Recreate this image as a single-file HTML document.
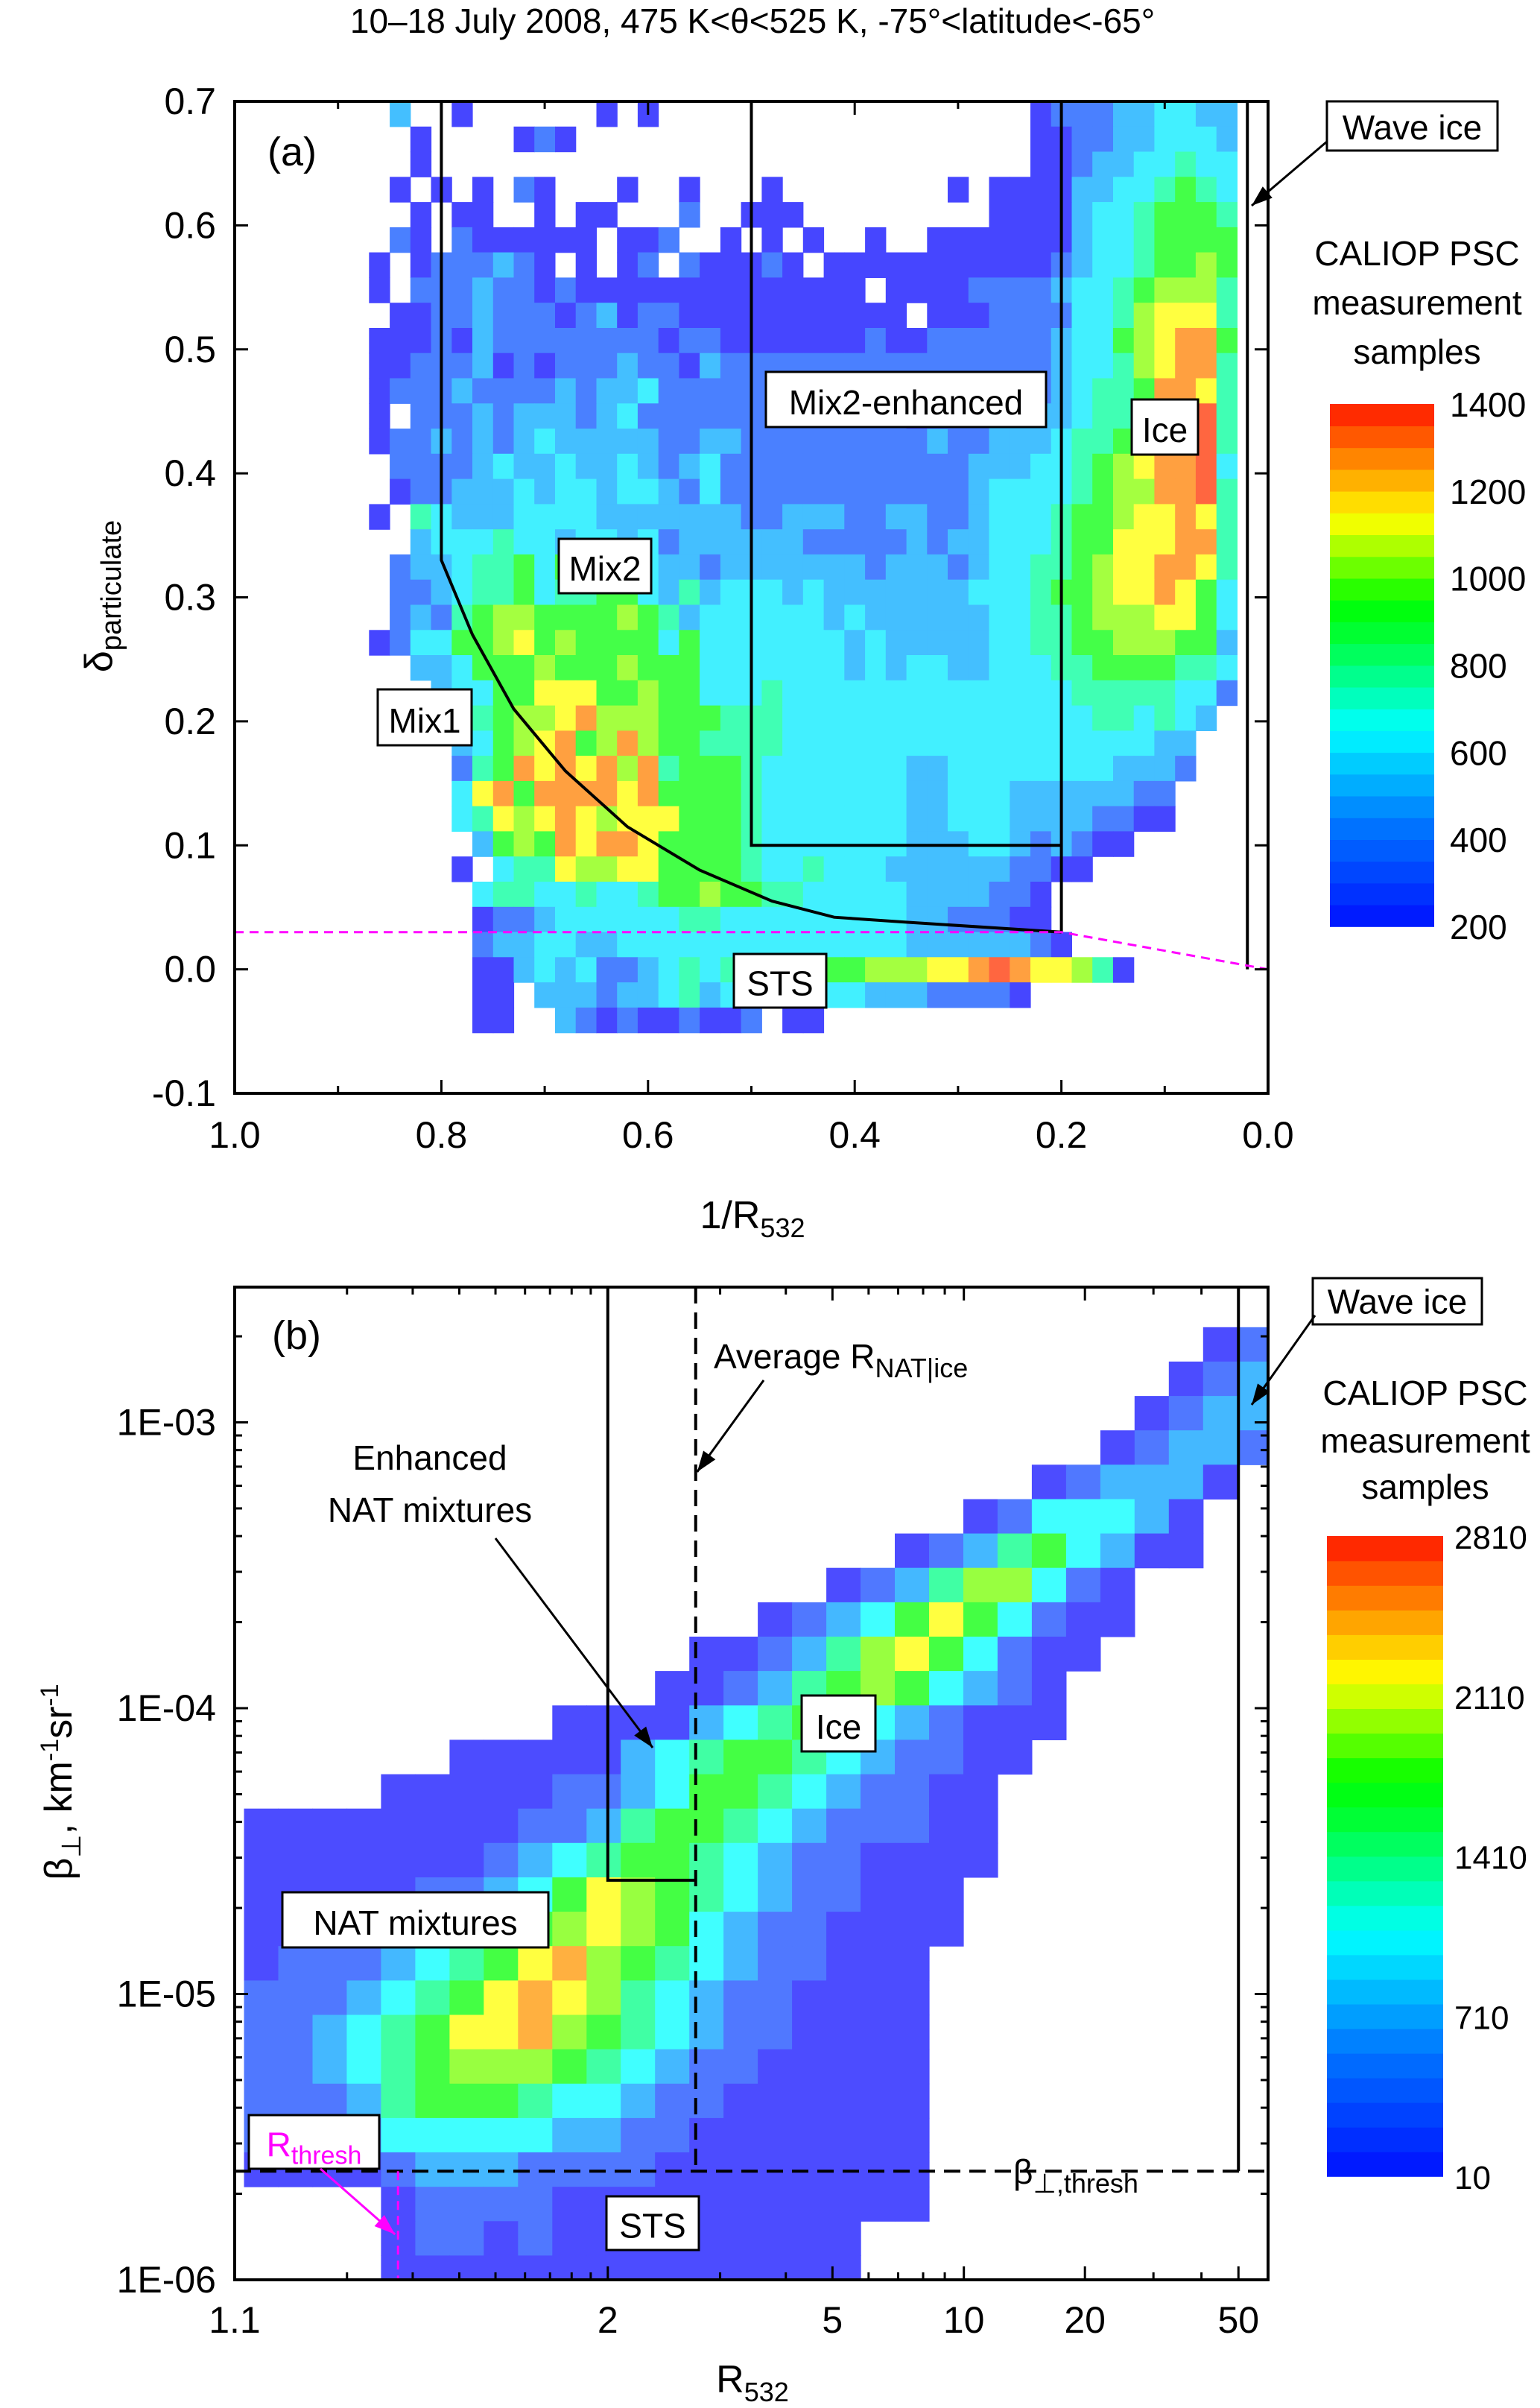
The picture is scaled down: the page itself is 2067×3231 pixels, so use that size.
<!DOCTYPE html>
<html><head><meta charset="utf-8"><style>
html,body{margin:0;padding:0;background:#fff;}
svg{display:block;font-family:"Liberation Sans",sans-serif;}
</style></head><body>
<svg id="fig" xmlns="http://www.w3.org/2000/svg" width="2067" height="3231" viewBox="0 0 2067 3231">
<rect x="0" y="0" width="2067" height="3231" fill="#fff"/>
<text x="1010" y="44" font-size="46" text-anchor="middle">10–18 July 2008, 475 K&lt;θ&lt;525 K, -75°&lt;latitude&lt;-65°</text>
<g id="cellsA"></g>
<g id="cellsB"></g>
<g id="overlay"></g>
</svg>
<script>
// ---------- Panel (a) data: codes per bin (0 empty .. a max) ----------
const aBinX0 = 0.87, aBinDX = 0.02, aBinY0 = 0.70, aBinDY = 0.0203;
const rowsA = [
"0300100000"+"0101000000"+"0000000000"+"001222334433",
"0010000121"+"0000000000"+"0000000000"+"001122334443",
"0010000000"+"0000000000"+"0000000000"+"001123344544",
"0101010210"+"0010010001"+"0000000010"+"111133445654",
"0010110010"+"1100020011"+"1000000000"+"111134456665",
"0210211111"+"1011200101"+"0100100111"+"111134456666",
"1012223210"+"1012021112"+"1011111111"+"111234456676",
"1022232212"+"1111111111"+"1111011112"+"222344567775",
"0112232221"+"2312211111"+"1111110111"+"222244578885",
"1112132222"+"2222122111"+"1111211222"+"222344678996",
"1122231212"+"2232213222"+"2222222222"+"222344578995",
"1222322223"+"2334222222"+"2222222222"+"222345569985",
"1022232333"+"2342222222"+"2222221122"+"3333455799a5",
"1223232343"+"3333223322"+"2222222322"+"3334556799a5",
"0222234334"+"3343234222"+"2222222223"+"3344567899a4",
"0122333434"+"4344324222"+"2222222223"+"4444567799a5",
"1054333444"+"4333333322"+"3332233223"+"444566788985",
"0034445443"+"4434233333"+"3222223233"+"444566888995",
"0233455646"+"4634332333"+"3333233323"+"445567889985",
"0223455645"+"5664353444"+"3433333334"+"445667889864",
"0232567766"+"6676534444"+"4434333333"+"445567778864",
"1244667867"+"6666464444"+"4443433333"+"445566777663",
"0033466676"+"6676664444"+"4443434433"+"444556666554",
"0003446688"+"8667664445"+"4444444444"+"444455555442",
"0000456778"+"9777666555"+"4444444444"+"444445545430",
"0000346789"+"6797665555"+"4444444444"+"444444443300",
"0000256989"+"8979566654"+"4444443344"+"444444333200",
"0000489699"+"9989666654"+"4444443344"+"433333322000",
"0000458789"+"8788866654"+"4444443344"+"433332211000",
"0000036769"+"8998666654"+"4444443334"+"432321100000",
"0000104558"+"7788666654"+"4544433333"+"322110000000",
"0000045544"+"5445667665"+"5444443333"+"221000000000",
"0000012234"+"4444455444"+"4444443322"+"211000000000",
"0000023344"+"3344444444"+"4444443333"+"332100000000",
"0000011343"+"4223454555"+"5566777889"+"a98875100000",
"0000011033"+"3233453444"+"4444333222"+"210000000000",
"0000011003"+"2121121120"+"1100000000"+"000000000000"
];
const aXTicks = [1.0,0.8,0.6,0.4,0.2,0.0];
const aXTickLabels = ["1.0","0.8","0.6","0.4","0.2","0.0"];
const aYTicks = [0.7,0.6,0.5,0.4,0.3,0.2,0.1,0.0,-0.1];
const aYTickLabels = ["0.7","0.6","0.5","0.4","0.3","0.2","0.1","0.0","-0.1"];
const aCbLabels = ["1400","1200","1000","800","600","400","200"];
const mix1Curve = [[0.8,0.7],[0.8,0.33],[0.77,0.27],[0.73,0.21],[0.68,0.16],[0.62,0.115],[0.55,0.08],[0.48,0.055],[0.42,0.042],[0.35,0.038],[0.2,0.03]];

// ---------- Panel (b) data ----------
const bBinX0 = -0.975, bBinDX = 0.0918, bBinY0 = -2.667, bBinDY = 0.1203;
const rowsB = [
"0000000000"+"0000000000"+"0000000012",
"0000000000"+"0000000000"+"0000000123",
"0000000000"+"0000000000"+"0000001233",
"0000000000"+"0000000000"+"0000012332",
"0000000000"+"0000000000"+"0001233310",
"0000000000"+"0000000000"+"0124443100",
"0000000000"+"0000000001"+"2356431100",
"0000000000"+"0000000123"+"5774210000",
"0000000000"+"0000012346"+"8642110000",
"0000000000"+"0001123578"+"6421100000",
"0000000000"+"0011235676"+"4321000000",
"0000000001"+"1113456543"+"2111000000",
"0000001111"+"1345665432"+"2110000000",
"0000111112"+"2346654322"+"1100000000",
"1111111122"+"3566543222"+"1100000000",
"1111111234"+"5665432211"+"1100000000",
"1111122346"+"8765432211"+"1000000000",
"1111223467"+"8764322111"+"1000000000",
"1222345689"+"7654322111"+"0000000000",
"2223456898"+"7543221111"+"0000000000",
"2234568897"+"6543221111"+"0000000000",
"2234567776"+"5432211111"+"0000000000",
"2223566654"+"4322111111"+"0000000000",
"2222444443"+"3221111111"+"0000000000",
"1111233322"+"2211111111"+"0000000000",
"0000122221"+"1111111111"+"0000000000",
"0000122121"+"1111111100"+"0000000000",
"0000111111"+"1111111100"+"0000000000"
];
const bXTicks = [1.1,2,5,10,20,50];
const bXTickLabels = ["1.1","2","5","10","20","50"];
const bXMinor = [1.2,1.3,1.4,1.5,1.6,1.7,1.8,1.9,3,4,6,7,8,9,30,40];
const bYTicks = [-3,-4,-5,-6];
const bYTickLabels = ["1E-03","1E-04","1E-05","1E-06"];
const bCbLabels = ["2810","2110","1410","710","10"];

// ---------- geometry ----------
const NS="http://www.w3.org/2000/svg";
const A={l:315,r:1702,t:136,b:1467};
const B={l:315,r:1702,t:1727,b:3059};
function xa(v){return A.l+(1-v)*(A.r-A.l);}
function ya(v){return A.t+(0.7-v)/0.8*(A.b-A.t);}
function xbl(lg){return B.l+(lg+1)*500.8;}
function xb(R){return xbl(Math.log10(R-1));}
function ybl(lg){return B.b-(lg+6)*383.5;}
function yb(beta){return ybl(Math.log10(beta));}
const palA={"1":"#4646ff","2":"#4a80ff","3":"#44bfff","4":"#42f0ff","5":"#40ffb4","6":"#44ff48","7":"#a4ff40","8":"#ffff40","9":"#ffa040","a":"#ff6640"};
const palB={"1":"#4c4cff","2":"#5078ff","3":"#44b8ff","4":"#40ffff","5":"#40ffa4","6":"#44ff44","7":"#98ff40","8":"#ffff40","9":"#ffb040","a":"#ff6040"};
function mk(tag,attrs,parent){const e=document.createElementNS(NS,tag);for(const k in attrs)e.setAttribute(k,attrs[k]);(parent||document.getElementById('fig')).appendChild(e);return e;}

const gA=document.getElementById('cellsA');
rowsA.forEach((row,k)=>{for(let j=0;j<row.length;j++){const c=row[j];if(c==='0')continue;
 const x1=xa(aBinX0-aBinDX*j),x2=xa(aBinX0-aBinDX*(j+1));const y1=ya(aBinY0-aBinDY*k),y2=Math.min(A.b,ya(aBinY0-aBinDY*(k+1)));
 const r=mk('rect',{x:x1.toFixed(1),y:y1.toFixed(1),width:(x2-x1+0.6).toFixed(1),height:(y2-y1+0.6).toFixed(1),fill:palA[c]},gA);
 
 }});
const gB=document.getElementById('cellsB');
rowsB.forEach((row,k)=>{for(let j=0;j<row.length;j++){const c=row[j];if(c==='0')continue;
 const x1=Math.max(B.l,xbl(bBinX0+bBinDX*j)),x2=Math.min(B.r,xbl(bBinX0+bBinDX*(j+1)));const y1=Math.max(B.t,ybl(bBinY0-bBinDY*k)),y2=Math.min(B.b,ybl(bBinY0-bBinDY*(k+1)));
 const r=mk('rect',{x:x1.toFixed(1),y:y1.toFixed(1),width:(x2-x1+0.6).toFixed(1),height:(y2-y1+0.6).toFixed(1),fill:palB[c]},gB);
 
 }});

const g=document.getElementById('overlay');
function line(x1,y1,x2,y2,st,name){const l=mk('line',{x1,y1,x2,y2,stroke:st.c||'#000','stroke-width':st.w||4,'stroke-dasharray':st.d||'none'},g);return l;}
function text(x,y,s,size,anchor,name,fill){const t=mk('text',{x,y,'font-size':size,'text-anchor':anchor||'middle',fill:fill||'#000'},g);t.innerHTML=s;return t;}
function box(x,y,w,h,s,name,size,fill){const r=mk('rect',{x,y,width:w,height:h,fill:'#fff',stroke:'#000','stroke-width':3},g);text(x+w/2,y+h*0.77,s,size||46,'middle',name,fill);}
function arrow(x1,y1,x2,y2,col,name){line(x1,y1,x2,y2,{w:3,c:col},name);const a=Math.atan2(y2-y1,x2-x1),L=28,W=10;
 const p=mk('polygon',{points:`${x2},${y2} ${x2-L*Math.cos(a)+W*Math.sin(a)},${y2-L*Math.sin(a)-W*Math.cos(a)} ${x2-L*Math.cos(a)-W*Math.sin(a)},${y2-L*Math.sin(a)+W*Math.cos(a)}`,fill:col},g);}

let pts=mix1Curve.map(p=>xa(p[0]).toFixed(1)+','+ya(p[1]).toFixed(1)).join(' ');
let pl=mk('polyline',{points:pts,fill:'none',stroke:'#000','stroke-width':4},g);
pl=mk('polyline',{points:`${xa(0.5)},${A.t} ${xa(0.5)},${ya(0.1)} ${xa(0.2)},${ya(0.1)}`,fill:'none',stroke:'#000','stroke-width':4},g);
line(xa(0.2),A.t,xa(0.2),ya(0.03),{},'ice-boundary-a');
line(xa(0.02),A.t,xa(0.02),ya(0.0),{},'wave-ice-boundary-a');
pl=mk('polyline',{points:`${A.l},${ya(0.03)} ${xa(0.2)},${ya(0.03)} ${A.r},${ya(0.0)}`,fill:'none',stroke:'#ff00ff','stroke-width':3,'stroke-dasharray':'12,8'},g);
let fr=mk('rect',{x:A.l,y:A.t,width:A.r-A.l,height:A.b-A.t,fill:'none',stroke:'#000','stroke-width':4},g);
for(let v=0;v<=10;v++){const x=xa(v/10),L=(v%2===0)?18:10;line(x,A.b,x,A.b-L,{w:3},'x-tick-a');line(x,A.t,x,A.t+L,{w:3},'x-tick-a');}
aXTicks.forEach((v,i)=>text(xa(v),1540,aXTickLabels[i],50,'middle','x-tick-label-a'));
aYTicks.forEach((v,i)=>{const y=ya(v);line(A.l,y,A.l+18,y,{w:3},'y-tick-a');line(A.r,y,A.r-18,y,{w:3},'y-tick-a');text(290,y+17,aYTickLabels[i],50,'end','y-tick-label-a');});
text(1010,1648,'1/R<tspan font-size="36" dy="12">532</tspan>',52,'middle','x-axis-title-a');
let yt=text(0,0,'δ<tspan font-size="38" dy="12">particulate</tspan>',52,'middle','y-axis-title-a');yt.setAttribute('transform','translate(150,800) rotate(-90)');
text(392,222,'(a)',54,'middle','panel-label-a');
box(1028,499,376,74,'Mix2-enhanced','label-mix2-enhanced');
box(1519,536,89,74,'Ice','label-ice-a');
box(750,723,124,73,'Mix2','label-mix2');
box(507,925,126,75,'Mix1','label-mix1');
box(985,1280,124,72,'STS','label-sts-a');
box(1781,136,229,66,'Wave ice','label-wave-ice-a');
arrow(1781,190,1680,276,'#000','wave-ice-arrow-a');
const stops=[[0,[0,16,255]],[0.2,[0,120,255]],[0.38,[0,255,255]],[0.55,[0,255,60]],[0.62,[0,255,0]],[0.78,[255,255,0]],[0.88,[255,150,0]],[1,[255,20,0]]];
function jet(t){for(let i=1;i<stops.length;i++){if(t<=stops[i][0]){const a=stops[i-1],b=stops[i],f=(t-a[0])/(b[0]-a[0]);return 'rgb('+a[1].map((c,k)=>Math.round(c+(b[1][k]-c)*f)).join(',')+')';}}return 'rgb(255,20,0)';}
function colorbar(x,y0,y1,w,n,name){for(let i=0;i<n;i++){const h=(y1-y0)/n;const r=mk('rect',{x,y:(y1-(i+1)*h).toFixed(1),width:w,height:(h+0.8).toFixed(1),fill:jet((i+0.5)/n)},g);}}
colorbar(1785,542,1243,140,24,'colorbar-a');
aCbLabels.forEach((s,i)=>text(1946,542+i*(1243-542)/6+17,s,46,'start','colorbar-a-label'));
text(1902,356,'CALIOP PSC',46,'middle','colorbar-a-title');
text(1902,422,'measurement',46,'middle','colorbar-a-title');
text(1902,488,'samples',46,'middle','colorbar-a-title');

pl=mk('polyline',{points:`${xb(2)},${B.t} ${xb(2)},${yb(2.5e-5)} ${xb(2.72)},${yb(2.5e-5)}`,fill:'none',stroke:'#000','stroke-width':4},g);
line(xb(2.72),B.t,xb(2.72),yb(2.4e-6),{d:'22,12'},'average-r-nat-ice-line');
line(xb(50),B.t,xb(50),yb(2.4e-6),{},'wave-ice-boundary-b');
line(B.l,yb(2.4e-6),B.r,yb(2.4e-6),{d:'22,12'},'beta-thresh-line');
line(xb(1.274),yb(2.4e-6),xb(1.274),B.b,{c:'#ff00ff',w:3,d:'12,8'},'r-thresh-line');
fr=mk('rect',{x:B.l,y:B.t,width:B.r-B.l,height:B.b-B.t,fill:'none',stroke:'#000','stroke-width':4},g);
bXTicks.forEach((v,i)=>{const x=xb(v);line(x,B.b,x,B.b-18,{w:3},'x-tick-b');line(x,B.t,x,B.t+18,{w:3},'x-tick-b');text(x,3130,bXTickLabels[i],50,'middle','x-tick-label-b');});
bXMinor.forEach(v=>{const x=xb(v);line(x,B.b,x,B.b-10,{w:3},'x-minor-tick-b');line(x,B.t,x,B.t+10,{w:3},'x-minor-tick-b');});
bYTicks.forEach((v,i)=>{const y=ybl(v);line(B.l,y,B.l+18,y,{w:3},'y-tick-b');line(B.r,y,B.r-18,y,{w:3},'y-tick-b');text(290,y+17,bYTickLabels[i],50,'end','y-tick-label-b');});
for(let d=-6;d<-2;d++){for(let m=2;m<=9;m++){const y=ybl(d+Math.log10(m));if(y<B.t)continue;line(B.l,y,B.l+10,y,{w:3},'y-minor-tick-b');line(B.r,y,B.r-10,y,{w:3},'y-minor-tick-b');}}
text(1010,3210,'R<tspan font-size="36" dy="12">532</tspan>',52,'middle','x-axis-title-b');
yt=text(0,0,'β<tspan font-size="36" dy="12">⊥</tspan><tspan dy="-12">, km</tspan><tspan font-size="34" dy="-18">-1</tspan><tspan dy="18">sr</tspan><tspan font-size="34" dy="-18">-1</tspan>',52,'middle','y-axis-title-b');yt.setAttribute('transform','translate(96,2391) rotate(-90)');
text(398,1810,'(b)',54,'middle','panel-label-b');
text(958,1836,'Average R<tspan font-size="36" dy="12">NAT|ice</tspan>',46,'start','label-average-r-nat-ice');
arrow(1025,1852,xb(2.72)+2,1975,'#000','average-r-arrow');
text(577,1972,'Enhanced',46,'middle','label-enhanced-nat-1');
text(577,2042,'NAT mixtures',46,'middle','label-enhanced-nat-2');
arrow(665,2064,876,2345,'#000','enhanced-nat-arrow');
box(1076,2275,99,75,'Ice','label-ice-b');
box(379,2539,357,74,'NAT mixtures','label-nat-mixtures');
box(334,2838,175,72,'R<tspan font-size="34" dy="10">thresh</tspan>','label-r-thresh',46,'#ff00ff');
arrow(430,2910,xb(1.274)-4,2998,'#ff00ff','r-thresh-arrow');
box(814,2947,124,72,'STS','label-sts-b');
text(1360,2930,'β<tspan font-size="36" dy="12">⊥,thresh</tspan>',46,'start','label-beta-thresh');
box(1762,1715,227,62,'Wave ice','label-wave-ice-b');
arrow(1765,1765,1680,1885,'#000','wave-ice-arrow-b');
colorbar(1781,2061,2920,156,26,'colorbar-b');
bCbLabels.forEach((s,i)=>text(1952,2061+i*(2920-2061)/4+17,s,44,'start','colorbar-b-label'));
text(1913,1885,'CALIOP PSC',46,'middle','colorbar-b-title');
text(1913,1949,'measurement',46,'middle','colorbar-b-title');
text(1913,2011,'samples',46,'middle','colorbar-b-title');
</script>
</body></html>
